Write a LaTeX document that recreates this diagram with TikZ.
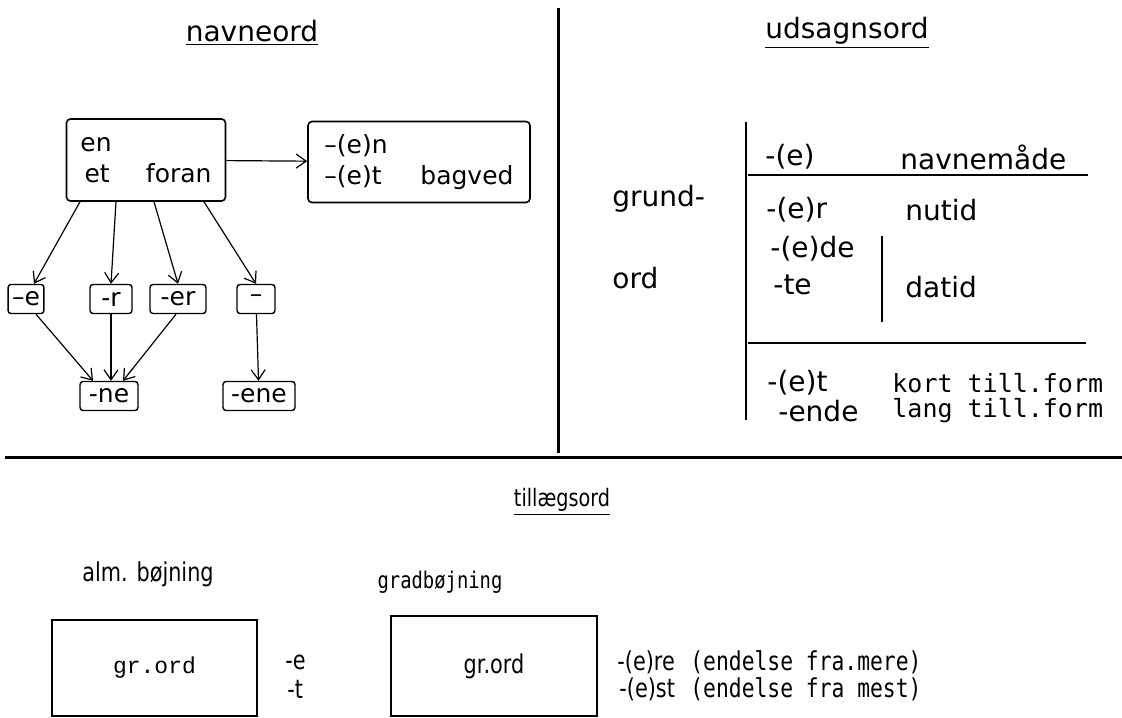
\documentclass[tikz,border=0pt]{standalone}
\usepackage{fontspec}
\setmainfont{DejaVu Sans}
\newfontfamily\monofont{DejaVu Sans Mono}
\newfontfamily\typefont{Liberation Mono}
\newfontfamily\condfont[FakeStretch=0.8]{DejaVu Sans}
\newfontfamily\condmono[FakeStretch=0.82]{DejaVu Sans Mono}
\usetikzlibrary{arrows.meta, positioning}

\begin{document}
\begin{tikzpicture}[
  x=0.5pt, y=-0.5pt,
  every node/.style={inner sep=0pt, font=\fontsize{12.5}{15.5}\selectfont},
  box/.style={draw, rounded corners=2pt, line width=0.8pt, align=left, inner sep=4pt},
  sbox/.style={draw, rounded corners=1.5pt, line width=0.7pt, inner xsep=2pt,
    minimum height=14.5pt},
  frame/.style={draw, line width=0.8pt},
  arrow/.style={-{Straight Barb[length=5pt, width=7pt]}, line width=0.6pt},
  rule/.style={line width=1.5pt},
  tab/.style={line width=0.8pt},
  big/.style={font=\fontsize{14}{17}\selectfont},
  mono/.style={font=\monofont\fontsize{12.5}{15}\selectfont},
  typ/.style={font=\typefont\fontsize{11.5}{14}\selectfont},
  cond/.style={font=\condfont\fontsize{13}{16}\selectfont},
  condm/.style={font=\condmono\fontsize{13}{16}\selectfont},
]
  \useasboundingbox (0,0) rectangle (1122,717);

  % dividers
  \draw[rule] (558,8) -- (558,453);
  \draw[rule] (5,457) -- (1122,457);

  % navneord
  \node[big] (titleN) at (252,33) {\underline{navneord}};
  \node[box, minimum width=79.5pt, minimum height=41pt] (foran) at (146,160)
    {en\\\,et\hspace{1.45em}foran};
  \node[box, minimum width=111pt, minimum height=40.5pt] (bagved) at (419,162)
    {–(e)n\\–(e)t\hspace{1.55em}bagved};
  \draw[arrow] (foran) -- (bagved);

  \node[sbox, minimum width=16pt] (e)   at (26,299)  {–e};
  \node[sbox, minimum width=21pt] (r)   at (111,299) {-r};
  \node[sbox, minimum width=28pt] (er)  at (178,299) {-er};
  \node[sbox, minimum width=19pt] (nul) at (256,299) {–};
  \node[sbox, minimum width=29pt] (ne)  at (109,396) {-ne};
  \node[sbox, minimum width=36pt] (ene) at (259,396) {-ene};

  \draw[arrow] ([xshift=-33pt]foran.south) -- ([xshift=4pt]e.north);
  \draw[arrow] ([xshift=-15pt]foran.south) -- (r.north);
  \draw[arrow] ([xshift=4pt]foran.south) -- (er.north);
  \draw[arrow] ([xshift=29pt]foran.south) -- (nul.north);
  \draw[arrow] ([xshift=5pt]e.south) -- ([xshift=-8pt]ne.north);
  \draw[arrow] (r.south) -- ([xshift=1pt]ne.north);
  \draw[arrow] ([xshift=-1pt]er.south) -- ([xshift=7pt]ne.north);
  \draw[arrow] (nul) -- (ene);

  % udsagnsord
  \node[big] (titleU) at (847,33) {\underline{udsagnsord}};
  \node[big, anchor=west] (grund) at (612,199) {grund-};
  \node[big, anchor=west] (ord)   at (612,278) {ord};
  \draw[tab] (746,122) -- (746,420);
  \node[big, anchor=west] (inf)   at (765,157) {-(e)};
  \node[big, anchor=west] (infL)  at (900,157) {navnemåde};
  \draw[tab] (748,175) -- (1088,175);
  \node[big, anchor=west] (nu)    at (766,210) {-(e)r};
  \node[big, anchor=west] (nuL)   at (905,210) {nutid};
  \node[big, anchor=west] (da1)   at (770,249) {-(e)de};
  \node[big, anchor=west] (da2)   at (773,285) {-te};
  \node[big, anchor=west] (daL)   at (905,287) {datid};
  \draw[tab] (882,236) -- (882,322);
  \draw[tab] (748,343) -- (1086,343);
  \node[big, anchor=west] (kort)  at (767,383) {-(e)t};
  \node[mono, anchor=west] (kortL) at (892,383) {kort till.form};
  \node[big, anchor=west] (lang)  at (778,411) {-ende};
  \node[mono, anchor=west] (langL) at (892,411) {lang till.form};

  % tillægsord
  \node[cond, font=\condfont\fontsize{12}{14}\selectfont] (titleT) at (562,502) {\underline{tillægsord}};
  \node[cond] (alm)  at (148,574) {alm. bøjning};
  \node[condm, font=\condmono\fontsize{11.5}{14}\selectfont] (grad) at (440,582) {gradbøjning};
  \node[frame, typ, minimum width=102.5pt, minimum height=48pt] (grC) at (154.5,668) {gr.ord};
  \node[cond, anchor=west] (endE) at (285,662) {-e};
  \node[cond, anchor=west] (endT) at (287,689) {-t};
  \node[frame, cond, minimum width=103pt, minimum height=50pt] (grD) at (494,666) {gr.ord};
  \node[cond, anchor=west] (komp) at (617,662) {-(e)re};
  \node[condm, anchor=west] (kompL) at (690,662) {(endelse fra.mere)};
  \node[cond, anchor=west] (sup) at (619,689) {-(e)st};
  \node[condm, anchor=west] (supL) at (690,689) {(endelse fra mest)};
\end{tikzpicture}
\end{document}
